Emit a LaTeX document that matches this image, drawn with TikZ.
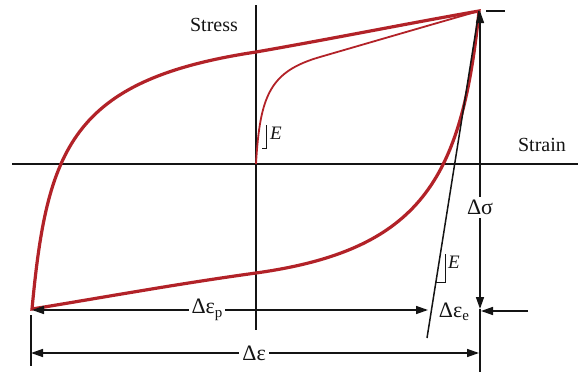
\documentclass[tikz,border=0pt]{standalone}
\usepackage{fontspec}
\setmainfont{Liberation Serif}
\usetikzlibrary{arrows.meta}
\definecolor{loopred}{RGB}{178,34,40}
\definecolor{inkblack}{RGB}{20,20,20}
\begin{document}
\begin{tikzpicture}[x=1pt,y=-1pt,
  axisline/.style={line width=1.6pt, inkblack},
  loopline/.style={line width=3.2pt, loopred, line join=miter},
  virgin/.style={line width=1.8pt, loopred},
  plainline/.style={line width=1.5pt, inkblack},
  dimarrow/.style={line width=1.5pt, inkblack, -{Triangle[length=12pt,width=8pt]}},
  dimboth/.style={line width=1.5pt, inkblack, {Triangle[length=12pt,width=8pt]}-{Triangle[length=12pt,width=8pt]}},
  slopetri/.style={line width=0.7pt, inkblack},
  lbl/.style={font=\fontsize{20}{22}\selectfont, inner sep=0pt, text=inkblack},
  dlbl/.style={font=\fontsize{22}{24}\selectfont, fill=white, inner sep=3pt, text=inkblack},
  elbl/.style={font=\fontsize{19}{20}\selectfont\itshape, inner sep=0pt, text=inkblack}
]
\useasboundingbox (0,0) rectangle (578,372);

% key points
\coordinate (O) at (256,164);
\coordinate (T) at (479,11);
\coordinate (B) at (32,309);
\coordinate (xl) at (12,164);
\coordinate (xr) at (578,164);
\coordinate (yt) at (256,5);
\coordinate (yb) at (256,330);

% axes
\draw[axisline] (xl) -- (xr);
\draw[axisline] (yt) -- (yb);
\node[lbl] (stress) at (214,25) {Stress};
\node[lbl] (strain) at (542,145) {Strain};

% hysteresis loop
\coordinate (U) at (256,52);
\coordinate (L) at (256,273);
\draw[loopline] (B) .. controls (47,150) and (70,80) .. (U)
                    .. controls (336,38) and (410,23) .. (T)
                    .. controls (462,180) and (420,250) .. (L)
                    .. controls (176,284) and (100,298) .. (B) -- cycle;

% initial loading curve
\coordinate (K) at (320,57);
\draw[virgin] (O) .. controls (260,95) and (270,71.5) .. (K)
                  .. controls (370,42.5) and (430,25) .. (T);

% slope triangle at origin
\coordinate (s1a) at (266,125);
\coordinate (s1b) at (266,148);
\coordinate (s1c) at (262,148);
\draw[slopetri] (s1a) -- (s1b) -- (s1c);
\node[elbl] (E1) at (276,133) {E};

% elastic unloading line
\coordinate (eb) at (427,338);
\draw[plainline] (T) -- (eb);
\coordinate (s2a) at (445,254);
\coordinate (s2b) at (445,282);
\coordinate (s2c) at (436,282);
\draw[slopetri] (s2a) -- (s2b) -- (s2c);
\node[elbl] (E2) at (454,262) {E};

% top tick
\coordinate (tk1) at (486,11);
\coordinate (tk2) at (505,11);
\draw[plainline] (tk1) -- (tk2);

% delta sigma
\coordinate (st) at (480,11);
\coordinate (sb) at (480,309);
\coordinate (ext) at (480,372);
\draw[plainline] (sb) -- (ext);
\draw[dimboth] (sb) -- node[dlbl,pos=0.34] (dsig) {Δσ} (st);

% delta epsilon p
\coordinate (pl) at (32,310);
\coordinate (pr) at (428,310);
\draw[dimboth] (pl) -- node[dlbl,pos=0.442] (dep) {Δε\raisebox{-0.35ex}{\fontsize{15}{15}\selectfont p}} (pr);

% delta epsilon e
\coordinate (er1) at (528,311);
\coordinate (er2) at (481,311);
\draw[dimarrow] (er1) -- (er2);
\node[font=\fontsize{22}{24}\selectfont, inner sep=0pt, text=inkblack] (dee) at (454,312) {Δε\raisebox{-0.35ex}{\fontsize{15}{15}\selectfont e}};

% delta epsilon
\coordinate (x1) at (31,315);
\coordinate (x2) at (31,366);
\draw[plainline] (x1) -- (x2);
\coordinate (el) at (31,353);
\coordinate (er) at (479,353);
\draw[dimboth] (el) -- node[dlbl,pos=0.498] (de) {Δε} (er);
\end{tikzpicture}
\end{document}
